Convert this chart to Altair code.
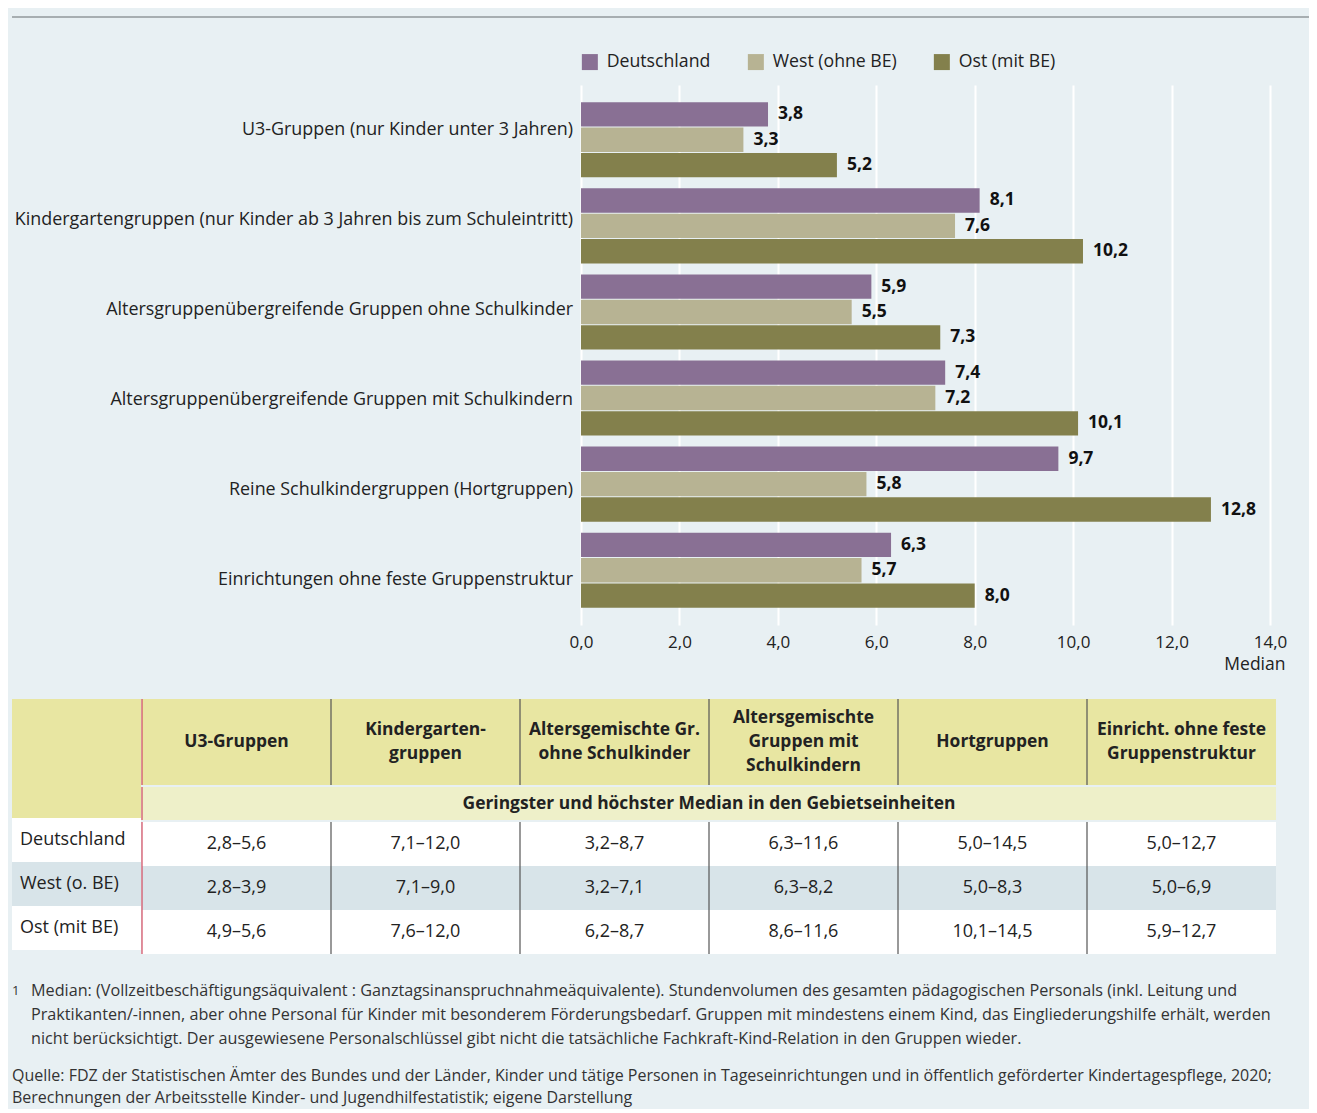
import altair as alt
import pandas as pd

# ---------------- data ----------------
categories = [
    "U3-Gruppen (nur Kinder unter 3 Jahren)",
    "Kindergartengruppen (nur Kinder ab 3 Jahren bis zum Schuleintritt)",
    "Altersgruppenübergreifende Gruppen ohne Schulkinder",
    "Altersgruppenübergreifende Gruppen mit Schulkindern",
    "Reine Schulkindergruppen (Hortgruppen)",
    "Einrichtungen ohne feste Gruppenstruktur",
]
series = ["Deutschland", "West (ohne BE)", "Ost (mit BE)"]
de_values = [3.8, 8.1, 5.9, 7.4, 9.7, 6.3]
west_values = [3.3, 7.6, 5.5, 7.2, 5.8, 5.7]
ost_values = [5.2, 10.2, 7.3, 10.1, 12.8, 8.0]
x_ticks = [0, 2, 4, 6, 8, 10, 12, 14]

table_columns = [
    "U3-Gruppen",
    "Kindergarten-\ngruppen",
    "Altersgemischte Gr.\nohne Schulkinder",
    "Altersgemischte\nGruppen mit\nSchulkindern",
    "Hortgruppen",
    "Einricht. ohne feste\nGruppenstruktur",
]
table_rows = ["Deutschland", "West (o. BE)", "Ost (mit BE)"]
range_de = ["2,8–5,6", "7,1–12,0", "3,2–8,7", "6,3–11,6", "5,0–14,5", "5,0–12,7"]
range_west = ["2,8–3,9", "7,1–9,0", "3,2–7,1", "6,3–8,2", "5,0–8,3", "5,0–6,9"]
range_ost = ["4,9–5,6", "7,6–12,0", "6,2–8,7", "8,6–11,6", "10,1–14,5", "5,9–12,7"]
subheader = "Geringster und höchster Median in den Gebietseinheiten"

footnote_lines = [
    "Median: (Vollzeitbeschäftigungsäquivalent : Ganztagsinanspruchnahmeäquivalente). Stundenvolumen des gesamten pädagogischen Personals (inkl. Leitung und",
    "Praktikanten/-innen, aber ohne Personal für Kinder mit besonderem Förderungsbedarf. Gruppen mit mindestens einem Kind, das Eingliederungshilfe erhält, werden",
    "nicht berücksichtigt. Der ausgewiesene Personalschlüssel gibt nicht die tatsächliche Fachkraft-Kind-Relation in den Gruppen wieder.",
]
footnote_marker = ["1"]
source_lines = [
    "Quelle: FDZ der Statistischen Ämter des Bundes und der Länder, Kinder und tätige Personen in Tageseinrichtungen und in öffentlich geförderter Kindertagespflege, 2020;",
    "Berechnungen der Arbeitsstelle Kinder- und Jugendhilfestatistik; eigene Darstellung",
]

# ---------------- style ----------------
BG = "#e8f0f3"
FONT = "Open Sans"
TEXT = "#222222"
series_colors = ["#897094", "#b7b393", "#83804c"]
HEAD_YELLOW = "#e8e6a2"
SUB_YELLOW = "#eef0c9"
ROW_BLUE = "#d8e4e9"
RED = "#d2485e"
GRAY = "#555555"

# ---------------- bar chart ----------------
records = []
for vals, s in zip([de_values, west_values, ost_values], series):
    for c, v in zip(categories, vals):
        records.append({"cat": c, "series": s, "value": v})
bars_df = pd.DataFrame(records)

cat_scale = alt.Scale(domain=categories, paddingInner=0.128, paddingOuter=0.2)
base = alt.Chart(bars_df).transform_calculate(
    label="replace(format(datum.value, '.1f'), '.', ',')"
)
y_enc = alt.Y("cat:N", sort=categories, scale=cat_scale, axis=None)
yoff = alt.YOffset(
    "series:N", sort=series,
    scale=alt.Scale(domain=series, paddingInner=0.04, paddingOuter=0),
)
x_enc = alt.X(
    "value:Q",
    scale=alt.Scale(domain=[0, 14], nice=False),
    axis=alt.Axis(
        values=x_ticks,
        labelExpr="replace(format(datum.value, '.1f'), '.', ',')",
        grid=True, gridColor="#ffffff", gridWidth=2,
        domain=False, ticks=False, labelFlush=False,
        labelFontSize=17, labelColor=TEXT, labelPadding=9,
        title="Median", titleFontSize=17.5, titleFontWeight="normal", titleColor=TEXT,
        titleAlign="right", titleAnchor="end", titleX=704, titlePadding=5,
    ),
)
bars = base.mark_bar().encode(
    x=x_enc,
    y=y_enc,
    yOffset=yoff,
    color=alt.Color(
        "series:N", sort=series,
        scale=alt.Scale(domain=series, range=series_colors),
        legend=alt.Legend(
            title=None, orient="top", direction="horizontal",
            symbolType="square", symbolSize=256, symbolStrokeWidth=0,
            labelFontSize=17.7, labelColor=TEXT, columnPadding=36,
            labelOffset=8, offset=14, padding=0,
        ),
    ),
)
value_labels = base.mark_text(
    align="left", baseline="middle", dx=10, fontSize=17.5, fontWeight="bold", color="#111111"
).encode(
    x=alt.X("value:Q"),
    y=alt.Y("cat:N", sort=categories),
    yOffset=alt.YOffset("series:N", sort=series),
    text="label:N",
)
bar_plot = alt.layer(bars, value_labels).properties(width=689, height=540)

cat_df = pd.DataFrame({"cat": categories})
cat_labels = alt.Chart(cat_df).mark_text(
    align="right", baseline="middle", dx=-8, fontSize=17.9, color=TEXT
).encode(
    x=alt.value("width"),
    y=alt.Y("cat:N", sort=categories, scale=cat_scale, axis=None),
    text="cat:N",
).properties(width=569, height=540)

bar_chart = alt.hconcat(cat_labels, bar_plot, spacing=0, bounds="flush").resolve_scale(
    color="independent"
).resolve_legend(color="independent")

# separator line at the top
sep_chart = alt.Chart(pd.DataFrame({"t": [""]})).mark_text().encode(text="t:N").properties(
    width=1297, height=2, view=alt.ViewBackground(fill="#a7aeb1", stroke=None)
)

# ---------------- table ----------------
header_df = pd.DataFrame({"col": table_columns})
header_df["n"] = header_df["col"].str.count("\n") + 1
cells = []
for r, vals in zip(table_rows, [range_de, range_west, range_ost]):
    for c, v in zip(table_columns, vals):
        cells.append({"row": r, "col": c, "range": v})
cells_df = pd.DataFrame(cells)
rows_df = pd.DataFrame({"row": table_rows})

col_scale = alt.Scale(type="band", domain=table_columns, paddingInner=0, paddingOuter=0)
row_scale = alt.Scale(type="band", domain=table_rows, paddingInner=0, paddingOuter=0)
x_col = alt.X("col:N", sort=table_columns, scale=col_scale, axis=None)
x_col_edge = alt.X("col:N", sort=table_columns, scale=col_scale, axis=None, bandPosition=0)
y_row = alt.Y("row:N", sort=table_rows, scale=row_scale, axis=None)
rule_color = alt.when(alt.datum.col == table_columns[0]).then(alt.value(RED)).otherwise(alt.value(GRAY))
row_fill = alt.when(alt.datum.row == table_rows[1]).then(alt.value(ROW_BLUE)).otherwise(alt.value("#ffffff"))

LINE_H = 24
head_layers = []
for n in sorted(header_df["n"].unique()):
    head_layers.append(
        alt.Chart(header_df).transform_filter(alt.datum.n == int(n)).mark_text(
            fontSize=17.4, fontWeight="bold", color=TEXT, lineBreak="\n",
            lineHeight=LINE_H, baseline="middle", dy=-(int(n) - 1) * LINE_H / 2,
        ).encode(x=x_col, text="col:N")
    )
head_rules = alt.Chart(header_df).mark_rule(strokeWidth=1.2).encode(x=x_col_edge, color=rule_color)
right_head = alt.layer(head_rules, *head_layers).properties(
    width=1134, height=86, view=alt.ViewBackground(fill=HEAD_YELLOW, stroke=None)
)

sub_text = alt.Chart(pd.DataFrame({"t": [subheader]})).mark_text(
    fontSize=17.4, fontWeight="bold", color=TEXT, baseline="middle"
).encode(text="t:N")
sub_rule = alt.Chart(header_df).transform_filter(alt.datum.col == table_columns[0]).mark_rule(
    strokeWidth=1.2, color=RED
).encode(x=x_col_edge)
right_sub = alt.layer(sub_rule, sub_text).properties(
    width=1134, height=33, view=alt.ViewBackground(fill=SUB_YELLOW, stroke=None)
)

data_rects = alt.Chart(cells_df).mark_rect().encode(x=x_col, y=y_row, color=row_fill)
data_text = alt.Chart(cells_df).mark_text(fontSize=18, color=TEXT, baseline="middle").encode(
    x=x_col, y=y_row, text="range:N"
)
data_rules = alt.Chart(header_df).mark_rule(strokeWidth=1.2).encode(x=x_col_edge, color=rule_color)
right_data = alt.layer(data_rects, data_rules, data_text).properties(width=1134, height=132)

left_head = alt.Chart(pd.DataFrame({"t": [""]})).mark_text().encode(text="t:N").properties(
    width=129, height=119, view=alt.ViewBackground(fill=HEAD_YELLOW, stroke=None)
)
left_rects = alt.Chart(rows_df).mark_rect().encode(y=y_row, color=row_fill)
left_text = alt.Chart(rows_df).mark_text(align="left", baseline="middle", fontSize=18, color=TEXT, dx=8).encode(
    x=alt.value(0), y=y_row, text="row:N"
)
left_data = alt.layer(left_rects, left_text).properties(width=129, height=132)

table = alt.hconcat(
    alt.vconcat(left_head, left_data, spacing=0),
    alt.vconcat(right_head, right_sub, right_data, spacing=0),
    spacing=0,
)

# ---------------- footnotes ----------------
foot_df = pd.DataFrame({"i": list(range(len(footnote_lines))), "line": footnote_lines})
mark_df = pd.DataFrame({"i": [0], "m": footnote_marker})
foot_y = alt.Y("i:O", axis=None, scale=alt.Scale(domain=list(range(len(footnote_lines))), paddingInner=0, paddingOuter=0))
foot_text = alt.Chart(foot_df).mark_text(align="left", baseline="middle", fontSize=16.2, color="#333333", dx=19).encode(
    x=alt.value(0), y=foot_y, text="line:N"
)
foot_mark = alt.Chart(mark_df).mark_text(align="left", baseline="middle", fontSize=13, color="#333333").encode(
    x=alt.value(0), y=foot_y, text="m:N"
)
foot_chart = alt.layer(foot_text, foot_mark).properties(width=1290, height=72)

src_df = pd.DataFrame({"i": list(range(len(source_lines))), "line": source_lines})
src_chart = alt.Chart(src_df).mark_text(align="left", baseline="middle", fontSize=16, color="#333333").encode(
    x=alt.value(0),
    y=alt.Y("i:O", axis=None, scale=alt.Scale(domain=list(range(len(source_lines))), paddingInner=0, paddingOuter=0)),
    text="line:N",
).properties(width=1290, height=44)

# ---------------- assemble ----------------
v1 = alt.vconcat(sep_chart, bar_chart, spacing=31)
v2 = alt.vconcat(v1, table, spacing=25)
v3 = alt.vconcat(v2, foot_chart, spacing=24)
chart = alt.vconcat(v3, src_chart, spacing=14).properties(
    padding={"left": 4, "top": 3, "right": 0, "bottom": 0},
    background=BG,
).configure(font=FONT).configure_view(stroke=None)

chart.save("out.html", embed_options={"renderer": "svg", "actions": False})
